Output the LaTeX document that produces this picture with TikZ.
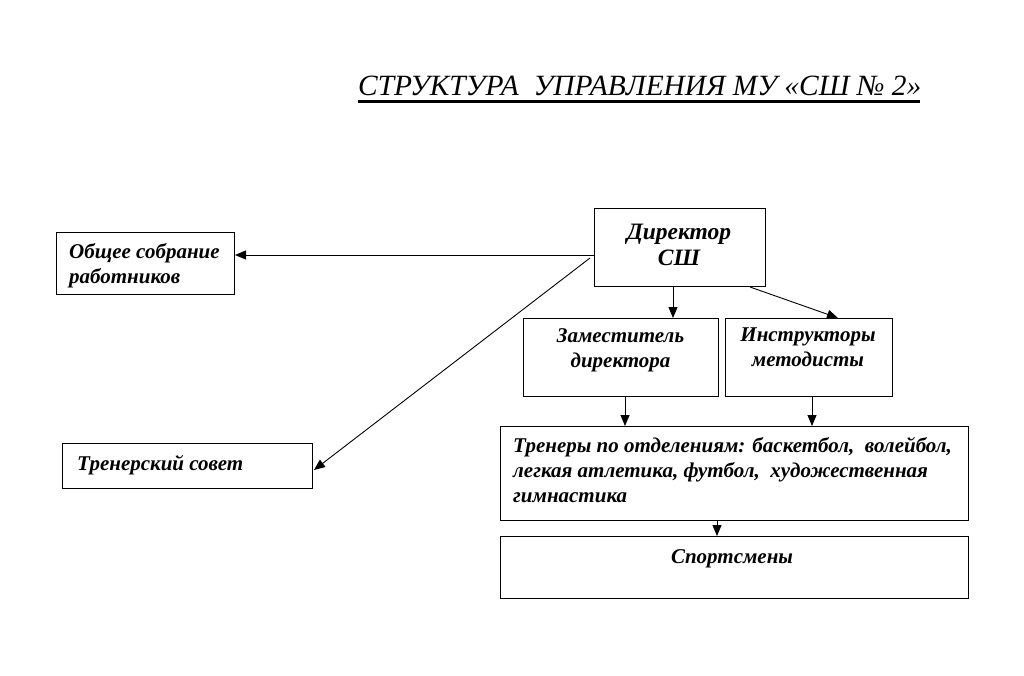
\documentclass[tikz,border=0pt]{standalone}
\usepackage{fontspec}
\setmainfont{Liberation Serif}
\usetikzlibrary{arrows.meta}
\begin{document}
\begin{tikzpicture}[x=1pt,y=-1pt,
  box/.style={draw,line width=1pt,inner sep=0pt,anchor=north west},
  lbl/.style={inner sep=0pt,font=\fontsize{21}{25}\selectfont\bfseries\itshape},
  arr/.style={line width=0.9pt,-{Triangle[length=11pt,width=9pt]}}]
\useasboundingbox (0,0) rectangle (1024,676);
% title
\node[inner sep=0pt,anchor=base west,font=\fontsize{29.4}{32}\selectfont\itshape] (title) at (358,96) {СТРУКТУРА\ \ УПРАВЛЕНИЯ МУ «СШ № 2»};
\coordinate (ulA) at (358,101.5);
\coordinate (ulB) at (920,101.5);
\draw[line width=2.2pt] (ulA) -- (ulB);
% boxes
\node[box,minimum width=178pt,minimum height=62pt] (obs) at (56,232) {};
\node[box,minimum width=171pt,minimum height=78pt] (dir) at (594,208) {};
\node[box,minimum width=195pt,minimum height=78pt] (zam) at (523,318) {};
\node[box,minimum width=167pt,minimum height=78pt] (ins) at (725,318) {};
\node[box,minimum width=468pt,minimum height=94pt] (tre) at (500,426) {};
\node[box,minimum width=468pt,minimum height=62pt] (spo) at (500,536) {};
\node[box,minimum width=250pt,minimum height=45pt] (tso) at (62,443) {};
% texts
\node[lbl,anchor=north west,align=left] (tobs) at (69,243) {Общее собрание\\работников};
\node[lbl,anchor=north,align=center,font=\fontsize{23.5}{25.5}\selectfont\bfseries\itshape] (tdir) at (679,224) {Директор\\СШ};
\node[lbl,anchor=north,align=center] (tzam) at (620.5,328) {Заместитель\\директора};
\node[lbl,anchor=north,align=center] (tins) at (808,328) {Инструкторы\\методисты};
\node[lbl,anchor=north west,align=left] (ttre) at (513,437) {Тренеры по отделениям: баскетбол,\ \ волейбол,\\легкая атлетика, футбол,\ \ художественная\\гимнастика};
\node[lbl,anchor=north] (tspo) at (732,549) {Спортсмены};
\node[lbl,anchor=north west] (ttso) at (77,455) {Тренерский совет};
% connectors
\coordinate (dl) at (594,255);
\coordinate (dd) at (590,258);
\coordinate (tsoE) at (314,470);
\draw[arr] (dl) -- (obs.east |- dl);
\draw[arr] (dd) -- (tsoE);
\draw[arr] (dir.south -| 673,0) -- (zam.north -| 673,0);
\coordinate (dr) at (750,287);
\coordinate (insT) at (838,318);
\draw[arr] (dr) -- (insT);
\draw[arr] (zam.south -| 625,0) -- (tre.north -| 625,0);
\draw[arr] (ins.south -| 812,0) -- (tre.north -| 812,0);
\draw[arr] (tre.south -| 717,0) -- (spo.north -| 717,0);
\end{tikzpicture}
\end{document}
